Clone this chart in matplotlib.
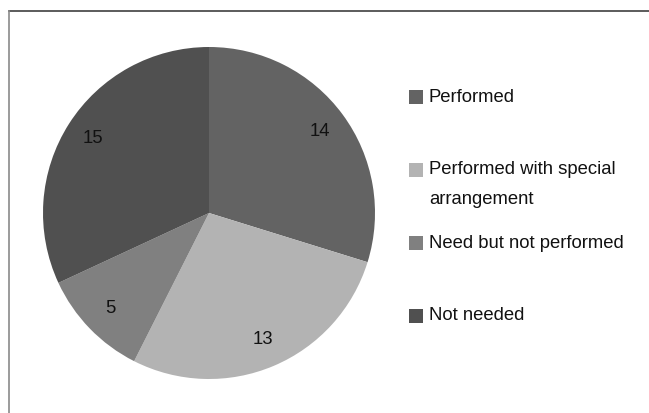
import matplotlib
matplotlib.use("Agg")
import matplotlib.pyplot as plt
from matplotlib.lines import Line2D
from matplotlib.patches import Rectangle

plt.rcParams['font.family'] = ['Liberation Sans', 'DejaVu Sans']

labels = ['Performed', 'Performed with special\narrangement', 'Need but not performed', 'Not needed']
values = [14, 13, 5, 15]
colors = ['#636363', '#b3b3b3', '#808080', '#505050']

W, H = 649, 413
fig = plt.figure(figsize=(W / 100, H / 100), dpi=100)

# pie centre (209, 213) px, radius 166 px
cx, cy, r = 209, 213, 166
ax = fig.add_axes([(cx - r) / W, (H - cy - r) / H, 2 * r / W, 2 * r / H])
wedges, texts, autotexts = ax.pie(
    values, colors=colors, startangle=90, counterclock=False,
    autopct=lambda p: '%d' % round(p * sum(values) / 100.0),
    pctdistance=0.83, wedgeprops=dict(linewidth=0),
    textprops=dict(fontsize=13.3, color='#111111'))
ax.set_xlim(-1, 1)
ax.set_ylim(-1, 1)
ax.axis('off')

# legend drawn by hand to keep the original spacing
legend_y = [97, 170, 243, 316]
for lab, col, y in zip(labels, colors, legend_y):
    fig.patches.append(Rectangle((409 / W, (H - y - 7) / H), 14 / W, 14 / H,
                                 transform=fig.transFigure, facecolor=col,
                                 edgecolor='none'))
    fig.text(429 / W, (H - y) / H, lab.split('\n')[0], fontsize=13.3,
             color='#111111', va='center', ha='left')
    if '\n' in lab:
        fig.text(429 / W, (H - y - 30) / H, lab.split('\n')[1], fontsize=13.3,
                 color='#111111', va='center', ha='left')

# frame (top and left edges only are visible)
fig.add_artist(Line2D([9 / W, 1], [(H - 10.5) / H] * 2, transform=fig.transFigure,
                      color='#404040', linewidth=1.2))
fig.add_artist(Line2D([9 / W] * 2, [0, (H - 10.5) / H], transform=fig.transFigure,
                      color='#8a8a8a', linewidth=1.2))

fig.savefig('out.png', dpi=100)
